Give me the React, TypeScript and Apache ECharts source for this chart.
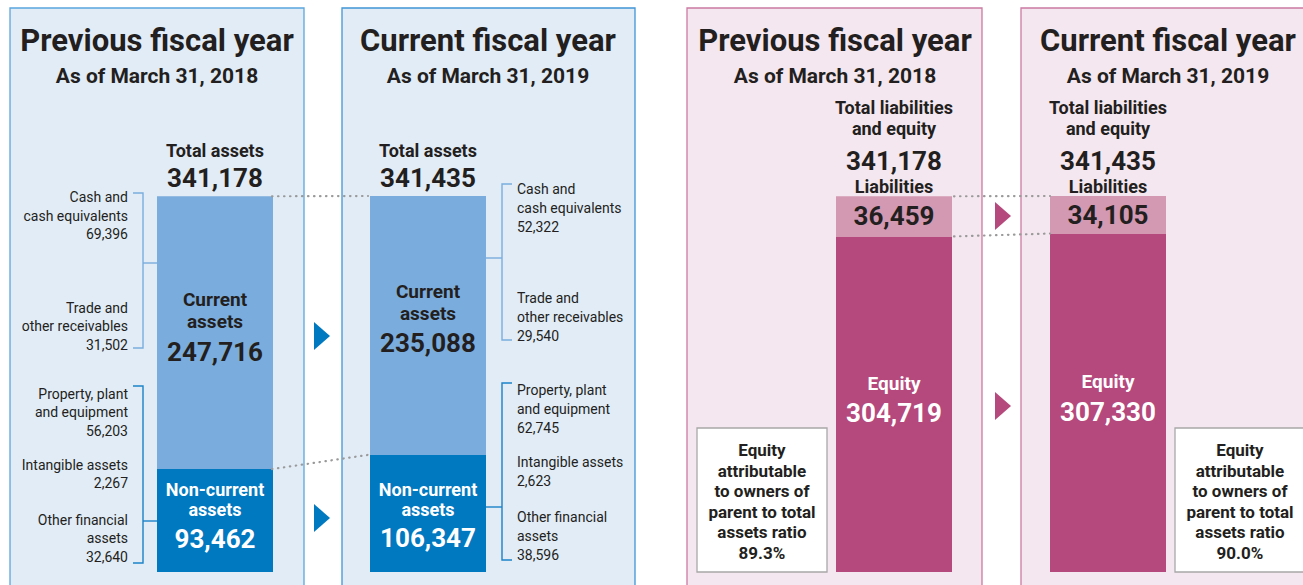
import React, { useEffect, useRef } from "react";
import * as echarts from "echarts";

// ---------- data ----------
const yearTitles = ["Previous fiscal year", "Current fiscal year"];
const dateLabels = ["As of March 31, 2018", "As of March 31, 2019"];
const totalAssets = [341178, 341435];
const currentAssets = [247716, 235088];
const nonCurrentAssets = [93462, 106347];
const totalLiabEquity = [341178, 341435];
const liabilities = [36459, 34105];
const equity = [304719, 307330];
const equityRatio = ["89.3%", "90.0%"];
const currentItemNames = ["Cash and\ncash equivalents", "Trade and\nother receivables"];
const currentItemsPrev = [69396, 31502];
const currentItemsCur = [52322, 29540];
const nonCurrentItemNames = ["Property, plant\nand equipment", "Intangible assets", "Other financial\nassets"];
const nonCurrentItemsPrev = [56203, 2267, 32640];
const nonCurrentItemsCur = [62745, 2623, 38596];

// ---------- style / layout ----------
const FONT = "Roboto, 'Noto Sans', sans-serif";
const DARK = "#231f20";
const C_LIGHT_BLUE = "#7aaddd";
const C_BLUE = "#0079c1";
const C_LIGHT_PINK = "#d499b2";
const C_PINK = "#b5487c";
const BAR_W = 116;
const GRID_LEFT = [157, 370, 836, 1050];
const GRID_TOP = 196;
const GRID_H = 376;

const fmt = (v: number) => v.toLocaleString("en-US");

function txt(text: string, x: number, y: number, size: number, o: any = {}) {
  return {
    type: "text",
    z: 10,
    style: {
      text,
      x,
      y,
      fill: o.fill || DARK,
      fontSize: size,
      fontWeight: o.weight || "bold",
      fontFamily: FONT,
      textAlign: o.align || "center",
      textVerticalAlign: "middle",
      verticalAlign: "middle",
      lineHeight: o.lh || Math.round(size * 1.2),
    },
  };
}

function rect(x: number, y: number, w: number, h: number, fill: string, stroke: string, z = 1) {
  return { type: "rect", z, shape: { x, y, width: w, height: h }, style: { fill, stroke, lineWidth: 1.3 } };
}

function poly(points: number[][], stroke: string) {
  return { type: "polyline", z: 6, shape: { points }, style: { stroke, lineWidth: 1.4, fill: "none" } };
}

function tri(x: number, y: number, color: string) {
  return { type: "polygon", z: 6, shape: { points: [[x, y - 14], [x + 16, y], [x, y + 14]] }, style: { fill: color } };
}

export default function App() {
  const ref = useRef<HTMLDivElement>(null);
  useEffect(() => {
    if (!ref.current) return;
    const chart = echarts.init(ref.current, undefined, { renderer: "svg" });
    const MAX = Math.max(...totalAssets, ...totalLiabEquity);

    const grids = GRID_LEFT.map((l) => ({ left: l, top: GRID_TOP, width: BAR_W, height: GRID_H, show: false }));
    const xAxes = GRID_LEFT.map((_, i) => ({
      type: "category",
      gridIndex: i,
      data: [yearTitles[i % 2]],
      show: false,
    }));
    const yAxes = GRID_LEFT.map((_, i) => ({ type: "value", gridIndex: i, min: 0, max: MAX, show: false }));

    const curOffsets = [[0, -3], [0, -4]];
    const nonOffsets = [[0, -2], [0, 5]];

    const series: any[] = [];
    [0, 1].forEach((i) => {
      series.push({
        type: "bar",
        name: "Non-current assets",
        xAxisIndex: i,
        yAxisIndex: i,
        stack: "assets" + i,
        barWidth: BAR_W,
        z: 5,
        data: [nonCurrentAssets[i]],
        itemStyle: { color: C_BLUE },
        label: {
          show: true,
          position: "inside",
          offset: nonOffsets[i],
          formatter: "{n|Non-current}\n{n|assets}\n{v|" + fmt(nonCurrentAssets[i]) + "}",
          rich: {
            n: { fontSize: 18, fontWeight: "bold", fontFamily: FONT, color: "#fff", lineHeight: 20 },
            v: { fontSize: 26, fontWeight: "bold", fontFamily: FONT, color: "#fff", lineHeight: 38 },
          },
        },
      });
      series.push({
        type: "bar",
        name: "Current assets",
        xAxisIndex: i,
        yAxisIndex: i,
        stack: "assets" + i,
        barWidth: BAR_W,
        z: 5,
        data: [currentAssets[i]],
        itemStyle: { color: C_LIGHT_BLUE },
        label: {
          show: true,
          position: "inside",
          offset: curOffsets[i],
          formatter: "{n|Current}\n{n|assets}\n{v|" + fmt(currentAssets[i]) + "}",
          rich: {
            n: { fontSize: 19, fontWeight: "bold", fontFamily: FONT, color: DARK, lineHeight: 22 },
            v: { fontSize: 26, fontWeight: "bold", fontFamily: FONT, color: DARK, lineHeight: 38 },
          },
        },
      });
    });
    [0, 1].forEach((i) => {
      const g = i + 2;
      series.push({
        type: "bar",
        name: "Equity",
        xAxisIndex: g,
        yAxisIndex: g,
        stack: "le" + i,
        barWidth: BAR_W,
        z: 5,
        data: [equity[i]],
        itemStyle: { color: C_PINK },
        label: {
          show: true,
          position: "inside",
          offset: [0, -3],
          formatter: "{n|Equity}\n{v|" + fmt(equity[i]) + "}",
          rich: {
            n: { fontSize: 19, fontWeight: "bold", fontFamily: FONT, color: "#fff", lineHeight: 24 },
            v: { fontSize: 26, fontWeight: "bold", fontFamily: FONT, color: "#fff", lineHeight: 36 },
          },
        },
      });
      series.push({
        type: "bar",
        name: "Liabilities",
        xAxisIndex: g,
        yAxisIndex: g,
        stack: "le" + i,
        barWidth: BAR_W,
        z: 5,
        data: [liabilities[i]],
        itemStyle: { color: C_LIGHT_PINK },
        label: {
          show: true,
          position: "inside",
          formatter: fmt(liabilities[i]),
          fontSize: 26,
          fontWeight: "bold",
          fontFamily: FONT,
          color: DARK,
        },
      });
    });

    chart.setOption({
      animation: false,
      backgroundColor: "#ffffff",
      grid: grids,
      xAxis: xAxes,
      yAxis: yAxes,
      series,
    });

    const yPix = (axis: number, v: number) => chart.convertToPixel({ yAxisIndex: axis } as any, v) as number;
    const xPix = (axis: number) => chart.convertToPixel({ xAxisIndex: axis } as any, yearTitles[axis % 2]) as number;
    const right = (a: number) => xPix(a) + BAR_W / 2;
    const left = (a: number) => xPix(a) - BAR_W / 2;
    const dotted = (x1: number, y1: number, x2: number, y2: number) => ({
      type: "line",
      z: 6,
      shape: { x1, y1, x2, y2 },
      style: { stroke: "#9a9a9a", lineWidth: 2.2, lineDash: [0.5, 5.5], lineCap: "round" },
    });

    const graphics: any[] = [];
    // panels
    graphics.push(rect(10, 8, 294, 600, "#e2ecf7", "#5aa5de", 0));
    graphics.push(rect(342, 8, 293, 600, "#e2ecf7", "#3f95d6", 0));
    graphics.push(rect(687, 8, 295, 600, "#f4e7ef", "#cc7aa2", 0));
    graphics.push(rect(1021, 8, 300, 600, "#f4e7ef", "#cc7aa2", 0));

    // titles
    const titleX = [157, 488, 835, 1168];
    titleX.forEach((x, i) => {
      graphics.push(txt(yearTitles[i % 2], x, 40, 31));
      graphics.push(txt(dateLabels[i % 2], x, 76, 21));
    });

    // asset totals
    [0, 1].forEach((i) => {
      const cx = xPix(i);
      graphics.push(txt("Total assets", cx, 150, 18));
      graphics.push(txt(fmt(totalAssets[i]), cx, 178, 26));
    });
    // liabilities & equity totals
    [0, 1].forEach((i) => {
      const cx = xPix(i + 2);
      graphics.push(txt("Total liabilities\nand equity", cx, 117.5, 18, { lh: 21 }));
      graphics.push(txt(fmt(totalLiabEquity[i]), cx, 161, 26));
      graphics.push(txt("Liabilities", cx, 186, 18));
    });

    // breakdown labels, previous year (right aligned)
    const prevCurY = [215.5, 326];
    currentItemNames.forEach((n, k) =>
      graphics.push(txt(n + "\n" + fmt(currentItemsPrev[k]), 128, prevCurY[k], 14, { weight: "normal", align: "right", lh: 18.5 }))
    );
    const prevNonY = [412, 474, 538];
    nonCurrentItemNames.forEach((n, k) =>
      graphics.push(txt(n + "\n" + fmt(nonCurrentItemsPrev[k]), 128, prevNonY[k], 14, { weight: "normal", align: "right", lh: 18.5 }))
    );
    // breakdown labels, current year (left aligned)
    const curCurY = [207.5, 317];
    currentItemNames.forEach((n, k) =>
      graphics.push(txt(n + "\n" + fmt(currentItemsCur[k]), 517, curCurY[k], 14, { weight: "normal", align: "left", lh: 19 }))
    );
    const curNonY = [409, 471.5, 535.5];
    nonCurrentItemNames.forEach((n, k) =>
      graphics.push(txt(n + "\n" + fmt(nonCurrentItemsCur[k]), 517, curNonY[k], 14, { weight: "normal", align: "left", lh: 19 }))
    );

    // brackets
    graphics.push(poly([[133, 193], [143, 193], [143, 348], [133, 348]], C_LIGHT_BLUE));
    graphics.push(poly([[143, 263], [157, 263]], C_LIGHT_BLUE));
    graphics.push(poly([[133, 386], [143, 386], [143, 563], [133, 563]], "#1a82c8"));
    graphics.push(poly([[143, 521], [157, 521]], "#1a82c8"));
    graphics.push(poly([[512, 184], [502, 184], [502, 340], [512, 340]], C_LIGHT_BLUE));
    graphics.push(poly([[486, 258], [502, 258]], C_LIGHT_BLUE));
    graphics.push(poly([[512, 383], [502, 383], [502, 560], [512, 560]], "#1a82c8"));
    graphics.push(poly([[486, 507], [502, 507]], "#1a82c8"));

    // arrows
    graphics.push(tri(314, 336, C_BLUE));
    graphics.push(tri(314, 518, C_BLUE));
    graphics.push(tri(995, 216, C_PINK));
    graphics.push(tri(995, 406, C_PINK));

    // dotted connectors
    graphics.push(dotted(right(0) - 1, yPix(0, totalAssets[0]), left(1) - 2, yPix(1, totalAssets[1])));
    graphics.push(dotted(right(0) - 1, yPix(0, nonCurrentAssets[0]), left(1) - 2, yPix(1, nonCurrentAssets[1])));
    graphics.push(dotted(right(2) + 2, yPix(2, totalLiabEquity[0]), left(3), yPix(3, totalLiabEquity[1])));
    graphics.push(dotted(right(2) + 2, yPix(2, equity[0]), left(3), yPix(3, equity[1])));

    // ratio boxes
    const boxX = [697, 1175];
    boxX.forEach((bx, i) => {
      graphics.push(rect(bx, 428, 130, 144, "#ffffff", "#a8a8a8", 3));
      graphics.push(
        txt("Equity\nattributable\nto owners of\nparent to total\nassets ratio\n" + equityRatio[i], bx + 65, 501.5, 17, { lh: 20.6 })
      );
    });

    chart.setOption({ graphic: { elements: graphics } });

    return () => chart.dispose();
  }, []);

  return <div ref={ref} style={{ position: "absolute", left: 0, top: 0, width: 1303, height: 585 }} />;
}
